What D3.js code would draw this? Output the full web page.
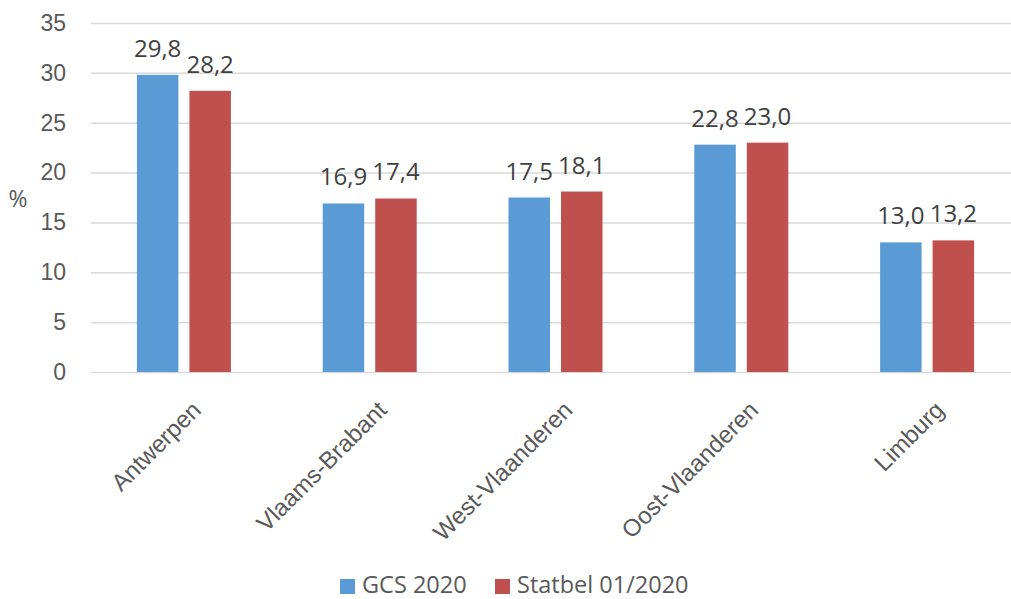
<!DOCTYPE html>
<html>
<head>
<meta charset="utf-8">
<script src="https://cdn.jsdelivr.net/npm/d3@7"></script>
<style>
  html, body { margin: 0; padding: 0; background: #fff; }
  svg { display: block; font-family: "Open Sans", "Liberation Sans", sans-serif; }
</style>
</head>
<body>
<svg id="chart" width="1011" height="599"></svg>
<script>
// Provinces and the two data series (percentages)
const categories = ["Antwerpen", "Vlaams-Brabant", "West-Vlaanderen", "Oost-Vlaanderen", "Limburg"];
const seriesNames = ["GCS 2020", "Statbel 01/2020"];
const gcs2020 = [29.8, 16.9, 17.5, 22.8, 13.0];
const statbel2020 = [28.2, 17.4, 18.1, 23.0, 13.2];
const yTicks = [0, 5, 10, 15, 20, 25, 30, 35];
const colors = ["#5B9BD5", "#C0504D"];

const svg = d3.select("#chart");
const width = 1011, height = 599;
const m = { left: 91, right: -9, top: 23, bottom: 227 };

const x = d3.scaleBand()
  .domain(categories)
  .range([m.left, width - m.right])
  .paddingInner(0)
  .paddingOuter(0);

// Two bars per province, centred in the band
const groupW = 94;
const x1 = d3.scaleBand()
  .domain(seriesNames)
  .range([(x.bandwidth() - groupW) / 2, (x.bandwidth() + groupW) / 2])
  .paddingInner(0.21)
  .paddingOuter(0);

const y = d3.scaleLinear()
  .domain([0, 35])
  .range([height - m.bottom, m.top]);

const fmt = v => v.toFixed(1).replace(".", ",");

// Horizontal gridlines with value labels on the left
const yAxis = d3.axisLeft(y)
  .tickValues(yTicks)
  .tickSize(-(width - m.right - m.left))
  .tickPadding(25)
  .tickFormat(d3.format("d"));

const gy = svg.append("g")
  .attr("transform", `translate(${m.left},0)`)
  .call(yAxis);
gy.select(".domain").remove();
gy.selectAll(".tick line").attr("stroke", "#D9D9D9").attr("stroke-width", 1.5);
gy.selectAll(".tick text")
  .attr("fill", "#595959")
  .style("font-size", "23px");

// Category labels along the bottom, rotated
const xAxis = d3.axisBottom(x).tickSize(0).tickPadding(0);
const gx = svg.append("g")
  .attr("transform", `translate(0,${y(0)})`)
  .call(xAxis);
gx.select(".domain").remove();
gx.selectAll(".tick text")
  .attr("fill", "#595959")
  .style("font-size", "24px")
  .attr("text-anchor", "end")
  .attr("dy", null)
  .attr("y", 0)
  .attr("transform", "translate(6,27) rotate(-45)")
  .attr("dominant-baseline", "hanging");

// Bars
const rows = categories.map((c, i) => ({ cat: c, vals: [gcs2020[i], statbel2020[i]] }));
const groups = svg.append("g").selectAll("g")
  .data(rows)
  .join("g")
  .attr("transform", d => `translate(${x(d.cat)},0)`);

groups.selectAll("rect")
  .data(d => d.vals.map((v, j) => ({ v, s: seriesNames[j], j })))
  .join("rect")
  .attr("x", d => x1(d.s))
  .attr("width", x1.bandwidth())
  .attr("y", d => y(d.v))
  .attr("height", d => y(0) - y(d.v))
  .attr("fill", d => colors[d.j]);

// Value labels above each bar
groups.selectAll("text")
  .data(d => d.vals.map((v, j) => ({ v, s: seriesNames[j], j })))
  .join("text")
  .attr("x", d => x1(d.s) + x1.bandwidth() / 2)
  .attr("y", d => y(d.v) - 18)
  .attr("text-anchor", "middle")
  .attr("fill", "#404040")
  .style("font-size", "24px")
  .text(d => fmt(d.v));

// Axis title
svg.append("text")
  .attr("x", 18)
  .attr("y", 207)
  .attr("text-anchor", "middle")
  .attr("fill", "#595959")
  .style("font-size", "23px")
  .text("%");

// Legend
const legend = svg.append("g").attr("transform", "translate(340,577)");
const legendX = [0, 155];
seriesNames.forEach((name, i) => {
  const g = legend.append("g").attr("transform", `translate(${legendX[i]},0)`);
  g.append("rect").attr("y", 2).attr("width", 15).attr("height", 15).attr("fill", colors[i]);
  g.append("text")
    .attr("x", 22)
    .attr("y", 16)
    .attr("fill", "#595959")
    .style("font-size", "23.5px")
    .text(name);
});
</script>
</body>
</html>
